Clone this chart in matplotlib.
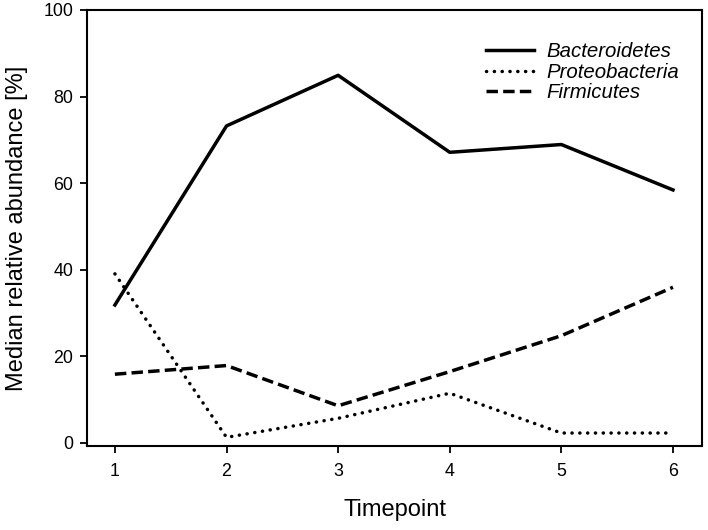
import matplotlib
matplotlib.use("Agg")
import matplotlib.pyplot as plt

plt.rcParams['font.family'] = ['Liberation Sans', 'DejaVu Sans']

timepoints = [1, 2, 3, 4, 5, 6]
bacteroidetes = [31.8, 73.2, 84.9, 67.1, 68.9, 58.4]
proteobacteria = [39.0, 1.2, 5.6, 11.4, 2.2, 2.2]
firmicutes = [15.8, 17.8, 8.5, 16.4, 24.7, 35.9]
yticks = [0, 20, 40, 60, 80, 100]

fig = plt.figure(figsize=(7.08, 5.30), dpi=100)
ax = fig.add_axes([87/708, 1-446/530, (702-87)/708, (446-10)/530])

lw = 2.5
ax.plot(timepoints, bacteroidetes, color='black', lw=lw, ls='-', label='Bacteroidetes')
ax.plot(timepoints, proteobacteria, color='black', lw=lw, ls=(0, (0.05, 2.2)),
        dash_capstyle='round', label='Proteobacteria')
ax.plot(timepoints, firmicutes, color='black', lw=lw, ls=(0, (3.3, 1.5)), label='Firmicutes')

ax.set_xlim(0.75, 6.26)
ax.set_ylim(-0.8, 100)
ax.set_xticks(timepoints)
ax.set_yticks(yticks)
ax.tick_params(direction='out', length=5, width=1.3, labelsize=12.8)
ax.tick_params(axis='y', pad=5)
ax.tick_params(axis='x', pad=7)
for s in ax.spines.values():
    s.set_linewidth(1.5)

ax.set_xlabel('Timepoint', fontsize=17, labelpad=14)
ax.set_ylabel('Median relative abundance [%]', fontsize=17, labelpad=11)

leg = ax.legend(loc='upper left', bbox_to_anchor=(0.649, 0.926),
                frameon=False, fontsize=14.7, labelspacing=0.07, handlelength=2.35,
                handletextpad=0.6, borderaxespad=0, borderpad=0)
for t in leg.get_texts():
    t.set_fontstyle('italic')

fig.savefig('out.png', dpi=100)
